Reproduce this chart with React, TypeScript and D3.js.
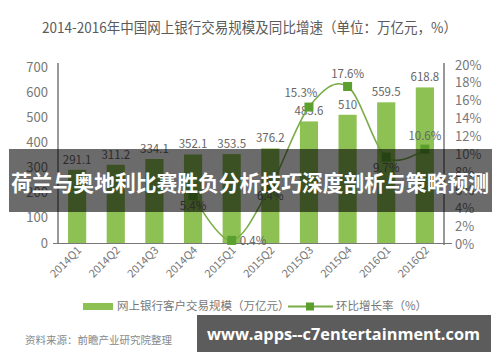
import React from "react";
import * as d3 from "d3";

const categories = ["2014Q1","2014Q2","2014Q3","2014Q4","2015Q1","2015Q2","2015Q3","2015Q4","2016Q1","2016Q2"];
const volumes = [291.1, 311.2, 334.1, 352.1, 353.5, 376.2, 483.6, 510, 559.5, 618.8];
const rateCategories = ["2014Q4","2015Q1","2015Q2","2015Q3","2015Q4","2016Q1","2016Q2"];
const rates = [5.4, 0.4, 6.4, 15.3, 17.6, 9.7, 10.6];
const leftTicks = [0, 100, 200, 300, 400, 500, 600, 700];
const rightTicks = [0, 2, 4, 6, 8, 10, 12, 14, 16, 18, 20];

const title = "2014-2016年中国网上银行交易规模及同比增速（单位：万亿元，%）";
const legendBar = "网上银行客户交易规模（万亿元）";
const legendLine = "环比增长率（%）";
const source = "资料来源：前瞻产业研究院整理";
const banner = "荷兰与奥地利比赛胜负分析技巧深度剖析与策略预测";
const watermark = "www.apps--c7entertainment.com";

// label placement offsets per rate point [dx, dy, anchor]
const rateLabelPos: [number, number, string][] = [
  [0, 14, "middle"],
  [8, 5, "start"],
  [0, 13, "middle"],
  [-8, -10, "middle"],
  [0, -8, "middle"],
  [0, 15, "middle"],
  [0, -9, "middle"],
];

export default function App() {
  const W = 500, H = 362;
  const x = d3.scaleBand<string>().domain(categories).range([58, 444]).paddingInner(0.53).paddingOuter(0.26);
  const yL = d3.scaleLinear().domain([0, 700]).range([243, 67]);
  const yR = d3.scaleLinear().domain([0, 20]).range([244, 65]);
  const cx = (c: string) => (x(c) as number) + x.bandwidth() / 2;
  const linePts: [number, number][] = rateCategories.map((c, i) => [cx(c), yR(rates[i])]);
  const lineGen = d3.line().curve(d3.curveCardinal.tension(0));
  const font = "'Noto Sans CJK SC', 'Noto Sans', sans-serif";
  const bar = "#8dc153";
  const lineColor = "#7aac48";
  const markColor = "#5b9f2e";

  return (
    <svg width={W} height={H} style={{ position: "absolute", left: 0, top: 0 }} fontFamily={font}>
      <rect width={W} height={H} fill="#ffffff" />
      <text x={42} y={33} textLength={415} lengthAdjust="spacingAndGlyphs" fontSize={14.5} fill="#5a5a5a">{title}</text>

      {/* bars */}
      {categories.map((c, i) => (
        <rect key={c} x={x(c)} y={yL(volumes[i])} width={x.bandwidth()} height={yL(0) - yL(volumes[i])} fill={bar} />
      ))}
      {categories.map((c, i) => (
        <text key={"v" + c} x={cx(c)} y={yL(volumes[i]) - 6} textAnchor="middle" fontSize={11.5} fill="#666">{volumes[i]}</text>
      ))}

      {/* axes */}
      <line x1={58} x2={58} y1={63} y2={244} stroke="#555" strokeWidth={1.2} />
      <line x1={444} x2={444} y1={63} y2={245} stroke="#555" strokeWidth={1.2} />
      <line x1={53} x2={452} y1={243.5} y2={243.5} stroke="#777" strokeWidth={1} />
      {leftTicks.map(t => (
        <text key={"l" + t} x={48} y={yL(t)} dy="0.35em" textAnchor="end" fontSize={13} fill="#777">{t}</text>
      ))}
      {rightTicks.map(t => (
        <text key={"r" + t} x={455} y={yR(t)} dy="0.35em" textAnchor="start" fontSize={13} fill="#777">{t + "%"}</text>
      ))}
      {categories.map(c => (
        <text key={"x" + c} transform={`translate(${cx(c) + 5},${251}) rotate(-45)`} textAnchor="end" fontSize={11} fill="#777">{c}</text>
      ))}

      {/* line */}
      <path d={lineGen(linePts) || ""} fill="none" stroke={lineColor} strokeWidth={1.6} />
      {linePts.map((p, i) => (
        <rect key={"m" + i} x={p[0] - 4.5} y={p[1] - 4.5} width={9} height={9} fill={markColor} />
      ))}
      {linePts.map((p, i) => (
        <text key={"rl" + i} x={p[0] + rateLabelPos[i][0]} y={p[1] + rateLabelPos[i][1]} textAnchor={rateLabelPos[i][2] as any} fontSize={11.5} fill="#666">{rates[i] + "%"}</text>
      ))}

      {/* legend */}
      <rect x={83} y={303} width={30} height={7} fill={bar} />
      <text x={117} y={310} fontSize={11.5} fill="#777">{legendBar}</text>
      <line x1={288} x2={333} y1={306.5} y2={306.5} stroke={lineColor} strokeWidth={2} />
      <rect x={306} y={302.5} width={8} height={8} fill={markColor} />
      <text x={336} y={310} fontSize={11.5} fill="#777">{legendLine}</text>
      <text x={25} y={344} fontSize={10.5} fill="#888">{source}</text>

      {/* banner overlay */}
      <rect x={9} y={149} width={483} height={63} fill="rgba(0,0,0,0.58)" />
      <text x={11} y={183} dy="0.35em" textLength={478} lengthAdjust="spacingAndGlyphs" fontSize={21.5} fontWeight="bold" fill="#fff">{banner}</text>

      {/* watermark */}
      <rect x={197} y={315} width={294} height={37} fill="#5c5c5c" />
      <text x={207} y={334} dy="0.35em" textLength={273} lengthAdjust="spacingAndGlyphs" fontSize={16.5} fontWeight="bold" fill="#fff" fontFamily="'Open Sans', sans-serif">{watermark}</text>
    </svg>
  );
}
